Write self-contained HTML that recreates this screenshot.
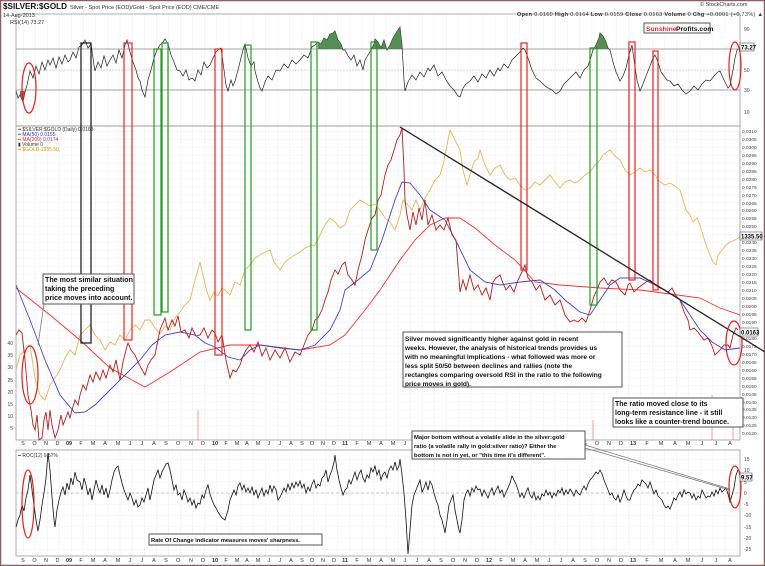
<!DOCTYPE html>
<html><head><meta charset="utf-8"><style>
html,body{margin:0;padding:0;background:#fff}
svg{display:block;font-family:"Liberation Sans",sans-serif}
.t{font-size:5.5px;fill:#333}
.box{fill:#fff;stroke:#555;stroke-width:1}
.bt{font-weight:bold;fill:#111}
</style></head><body>
<svg width="765" height="566" viewBox="0 0 765 566" xmlns="http://www.w3.org/2000/svg">
<defs>
<pattern id="gv" x="23" y="0" width="12.1" height="8" patternUnits="userSpaceOnUse"><line x1="0" y1="0" x2="0" y2="8" stroke="#e0e0e0" stroke-width="0.6"/></pattern>
<pattern id="gh" x="0" y="131" width="20" height="7.95" patternUnits="userSpaceOnUse"><line x1="0" y1="0" x2="20" y2="0" stroke="#e6e6e6" stroke-width="0.5"/></pattern>
<pattern id="gr" x="0" y="459" width="20" height="11.25" patternUnits="userSpaceOnUse"><line x1="0" y1="0" x2="20" y2="0" stroke="#e6e6e6" stroke-width="0.5"/></pattern>
</defs>
<rect x="0.5" y="0.5" width="764" height="565" fill="#fff" stroke="#8a6060" stroke-width="1.5"/>
<rect x="16" y="14" width="724" height="112" fill="url(#gv)"/>
<rect x="16" y="126" width="724" height="314" fill="url(#gv)"/>
<rect x="16" y="126" width="724" height="314" fill="url(#gh)"/>
<rect x="16" y="450" width="724" height="106" fill="url(#gv)"/>
<rect x="16" y="450" width="724" height="106" fill="url(#gr)"/>
<rect x="16" y="14" width="724" height="112" fill="none" stroke="#999" stroke-width="0.8"/>
<rect x="16" y="126" width="724" height="314" fill="none" stroke="#999" stroke-width="0.8"/>
<rect x="16" y="450" width="724" height="106" fill="none" stroke="#999" stroke-width="0.8"/>
<line x1="16" y1="49" x2="740" y2="49" stroke="#888" stroke-width="0.8"/>
<line x1="16" y1="70" x2="740" y2="70" stroke="#aaa" stroke-width="0.6" stroke-dasharray="2,1"/>
<line x1="16" y1="90" x2="740" y2="90" stroke="#888" stroke-width="0.8"/>
<line x1="16" y1="493" x2="740" y2="493" stroke="#999" stroke-width="0.6" stroke-dasharray="3,2"/>

<!-- month labels -->
<g font-size="5.5" fill="#333" text-anchor="middle">
<text x="23 34.5 46 57.5 81 93 105 118 130 142 154 166 178 191 203 226 237 247 258 269 280 291 302 312 323 334 357 369 381 393 405 417 429 441 453 465 477 501 513 525 537 549 561 573 585 597 609 621 647 661 675 688 702 716 730" y="445">SONDFMAMJJASONDFMAMJJASONDFMAMJJASONDFMAMJJASONDFMAMJJA</text>
<text x="23 34.5 46 57.5 81 93 105 118 130 142 154 166 178 191 203 226 237 247 258 269 280 291 302 312 323 334 357 369 381 393 405 417 429 441 453 465 477 501 513 525 537 549 561 573 585 597 609 621 647 661 675 688 702 716 730" y="562">SONDFMAMJJASONDFMAMJJASONDFMAMJJASONDFMAMJJASONDFMAMJJA</text>
<g font-weight="bold"><text x="69" y="445">09</text><text x="215" y="445">10</text><text x="345" y="445">11</text><text x="489" y="445">12</text><text x="633" y="445">13</text>
<text x="69" y="562">09</text><text x="215" y="562">10</text><text x="345" y="562">11</text><text x="489" y="562">12</text><text x="633" y="562">13</text></g>
</g>
<!-- right axis main -->
<text font-size="4.8" fill="#444"><tspan x="742" y="133">0.0310</tspan><tspan x="742" y="141">0.0305</tspan><tspan x="742" y="149">0.0300</tspan><tspan x="742" y="157">0.0295</tspan><tspan x="742" y="165">0.0290</tspan><tspan x="742" y="173">0.0285</tspan><tspan x="742" y="181">0.0280</tspan><tspan x="742" y="189">0.0275</tspan><tspan x="742" y="197">0.0270</tspan><tspan x="742" y="205">0.0265</tspan><tspan x="742" y="212">0.0260</tspan><tspan x="742" y="220">0.0255</tspan><tspan x="742" y="228">0.0250</tspan><tspan x="742" y="236">0.0245</tspan><tspan x="742" y="244">0.0240</tspan><tspan x="742" y="252">0.0235</tspan><tspan x="742" y="260">0.0230</tspan><tspan x="742" y="268">0.0225</tspan><tspan x="742" y="276">0.0220</tspan><tspan x="742" y="284">0.0215</tspan><tspan x="742" y="292">0.0210</tspan><tspan x="742" y="300">0.0205</tspan><tspan x="742" y="308">0.0200</tspan><tspan x="742" y="316">0.0195</tspan><tspan x="742" y="324">0.0190</tspan><tspan x="742" y="332">0.0185</tspan><tspan x="742" y="340">0.0180</tspan><tspan x="742" y="348">0.0175</tspan><tspan x="742" y="356">0.0170</tspan><tspan x="742" y="364">0.0165</tspan><tspan x="742" y="372">0.0160</tspan><tspan x="742" y="380">0.0155</tspan><tspan x="742" y="388">0.0150</tspan><tspan x="742" y="396">0.0145</tspan><tspan x="742" y="404">0.0140</tspan><tspan x="742" y="411">0.0135</tspan><tspan x="742" y="419">0.0130</tspan><tspan x="742" y="427">0.0125</tspan><tspan x="742" y="435">0.0120</tspan></text>
<text font-size="5" fill="#444"><tspan x="744" y="31">90</tspan><tspan x="744" y="51">70</tspan><tspan x="744" y="72">50</tspan><tspan x="744" y="92">30</tspan><tspan x="744" y="114">10</tspan></text>
<text font-size="5" fill="#444"><tspan x="744" y="461">15</tspan><tspan x="744" y="472">10</tspan><tspan x="744" y="484">5</tspan><tspan x="744" y="495">0</tspan><tspan x="744" y="506">-5</tspan><tspan x="744" y="517">-10</tspan><tspan x="744" y="529">-15</tspan><tspan x="744" y="540">-20</tspan><tspan x="744" y="551">-25</tspan></text>
<text font-size="5" fill="#444" text-anchor="end"><tspan x="13" y="345">40</tspan><tspan x="13" y="357">35</tspan><tspan x="13" y="369">30</tspan><tspan x="13" y="382">25</tspan><tspan x="13" y="394">20</tspan><tspan x="13" y="406">15</tspan><tspan x="13" y="418">10</tspan><tspan x="13" y="430">5</tspan></text>

<!-- series -->
<polyline fill="none" stroke="#e3b560" stroke-width="0.9" points="16,370 20,355 25,350 30,345 35,378 40,395 45,400 50,385 55,378 60,370 65,358 70,350 75,355 80,335 85,330 90,325 95,335 100,340 105,350 110,342 115,345 120,335 125,340 130,330 135,325 140,330 145,320 150,320 155,328 160,334 165,326 170,330 175,318 180,312 185,305 190,300 195,280 200,262 204,280 207,292 210,300 214,292 218,296 222,288 225,290 230,295 235,282 240,285 245,270 250,265 255,258 260,255 265,252 270,250 274,262 280,270 285,262 290,258 295,255 300,252 305,248 310,246 315,245 320,235 325,225 330,218 335,222 340,228 345,225 350,210 355,205 360,200 365,203 370,206 375,204 380,210 385,218 390,222 395,230 400,215 403,200 408,205 412,210 416,200 420,210 425,198 430,190 435,180 440,175 443,165 446,150 450,130 455,140 460,150 463,170 467,185 470,175 474,162 478,158 480,150 485,165 490,175 495,168 500,165 505,175 510,180 515,178 520,185 525,190 530,188 535,182 540,185 545,180 550,175 555,182 560,188 565,182 570,180 575,183 580,180 585,175 590,172 595,165 600,160 603,155 607,152 610,150 615,156 620,160 625,170 630,175 635,172 640,168 645,172 650,170 655,175 660,182 665,185 670,183 675,186 680,190 683,200 686,210 690,215 693,222 697,218 700,225 703,235 706,245 710,255 713,262 716,265 718,255 722,250 726,245 730,242 735,240 740,237"/>
<polyline fill="none" stroke="#e33" stroke-width="0.9" points="16,288 50,315 80,340 110,368 145,387 170,372 200,352 230,345 260,345 300,350 330,345 345,335 365,310 380,290 400,260 415,240 430,225 445,218 460,218 475,228 495,245 515,260 535,282 560,285 600,288 640,290 670,294 700,298 720,308 740,315"/>
<polyline fill="none" stroke="#44b" stroke-width="0.9" points="16,285 30,320 45,360 60,395 75,413 85,412 95,405 110,390 125,375 140,360 152,345 165,335 180,332 195,335 205,343 215,347 228,357 240,360 250,350 260,345 280,348 300,350 315,345 330,330 340,310 345,290 358,280 370,270 382,240 395,200 402,182 410,183 420,195 430,210 445,220 458,245 470,270 485,282 500,285 520,282 540,280 555,290 565,300 580,312 590,315 600,300 610,285 620,278 640,278 660,287 680,300 690,315 700,330 712,342 725,350 740,348"/>
<polyline fill="none" stroke="#a22" stroke-width="0.9" points="16,335 19,330 22,333 25,360 28,395 31,410 33,425 35,430 37,415 39,440 42,438 44,420 46,412 48,430 50,410 52,425 55,438 58,430 61,415 63,425 65,420 68,412 70,418 72,410 75,400 78,405 80,395 83,385 86,390 90,375 93,382 96,372 100,380 103,370 106,378 110,365 113,372 116,360 120,380 123,362 126,350 128,343 131,350 135,355 138,362 141,368 145,375 148,365 151,360 155,355 158,340 160,330 162,325 165,318 168,330 172,320 175,326 178,316 181,332 185,330 189,338 192,328 196,336 200,335 204,328 208,338 212,330 215,333 218,342 222,335 226,360 230,378 233,370 236,372 240,365 243,356 246,350 250,345 254,352 258,342 262,356 266,348 270,360 275,350 280,358 285,348 290,362 295,352 300,355 304,345 308,335 312,330 315,320 318,318 322,310 325,300 328,292 331,280 335,270 338,274 342,265 345,262 348,275 352,280 355,285 358,270 362,255 365,240 368,230 372,218 375,215 378,200 381,195 385,175 388,165 391,160 394,150 397,140 400,135 402,128 404,170 405,200 407,215 410,230 413,212 416,225 419,208 422,220 425,200 428,225 432,215 436,230 440,225 444,230 448,218 452,235 456,240 460,292 463,280 466,290 470,275 474,290 478,285 482,295 486,288 490,300 493,282 496,278 500,275 503,283 506,290 510,285 514,292 518,280 522,272 525,265 528,278 532,282 536,290 540,285 545,300 550,295 555,305 560,300 565,315 570,322 574,320 578,322 582,318 586,322 590,310 594,296 597,290 600,282 604,278 608,285 612,280 616,282 620,290 625,295 628,285 630,283 634,292 638,288 642,285 646,282 650,280 655,285 660,288 665,290 668,292 672,288 676,296 680,300 684,312 688,320 690,330 694,328 698,332 700,335 704,340 708,338 712,346 715,355 720,350 724,345 728,345 730,348 733,335 736,328 738,330"/>
<g stroke="#d66" stroke-width="0.6"><line x1="198" y1="440" x2="198" y2="410"/><line x1="593" y1="440" x2="593" y2="420"/><line x1="712" y1="440" x2="712" y2="395"/><line x1="733" y1="440" x2="733" y2="405"/></g>

<!-- RSI -->
<polyline fill="none" stroke="#222" stroke-width="0.7" points="16,91 18,98 20,95 23,102 25,92 27,85 30,71 33,78 36,66 39,74 42,62 45,70 48,60 50,65 53,58 56,68 59,57 62,64 65,55 68,62 70,60 73,52 76,58 79,47 82,45 85,40 88,48 91,44 94,65 95,71 98,62 101,68 104,56 107,66 110,60 113,55 116,63 119,50 122,58 125,45 127,40 130,52 133,62 136,70 138,78 140,81 142,90 145,97 148,80 151,70 154,58 157,50 160,45 163,42 165,39 168,44 171,55 174,62 177,70 180,71 183,76 186,70 189,80 192,78 195,81 198,70 201,75 204,62 207,68 210,65 213,58 216,52 218,50 221,48 224,70 226,85 228,91 231,80 233,86 235,81 238,70 241,58 243,50 245,44 248,58 251,66 254,62 255,71 258,82 260,88 262,91 265,82 268,76 272,80 276,70 280,71 284,64 288,68 292,60 296,64 300,60 304,55 308,58 312,47 315,45 318,42 321,44 324,38 327,40 330,34 333,33 335,31 338,40 341,44 343,50 345,50 348,56 351,60 354,55 357,66 360,60 363,70 365,60 368,55 371,50 374,44 375,39 378,42 381,48 384,40 387,50 390,45 393,38 396,33 398,30 400,27 402,45 404,80 405,91 408,82 412,75 416,80 420,72 424,77 428,68 430,71 434,65 438,76 442,72 446,80 450,86 454,90 458,96 460,97 463,88 466,84 470,81 474,76 478,82 482,74 486,78 490,70 494,76 498,68 500,71 504,64 508,68 512,60 516,56 520,52 523,48 525,50 528,58 532,70 536,78 540,81 544,85 548,88 552,90 556,94 560,91 564,84 568,80 572,76 576,72 580,78 584,70 588,66 590,60 593,50 596,45 599,38 600,33 603,36 606,42 608,48 610,50 613,62 616,72 620,81 623,76 626,68 629,55 632,45 634,60 637,80 640,91 643,84 646,76 650,66 653,58 655,55 658,62 661,72 664,76 667,80 670,81 674,86 678,84 682,90 686,94 690,91 694,86 698,90 702,84 706,80 710,81 714,76 718,72 720,71 723,78 726,84 728,88 730,86 733,70 735,58 737,50 738,49"/>
<g fill="#3a7a3a" opacity="0.85">
<polygon points="318,49 318,42 321,44 324,38 327,40 330,34 333,33 335,31 338,40 341,44 342,49"/>
<polygon points="372,49 374,44 375,39 378,42 381,48 384,40 387,50 390,45 393,38 396,33 398,30 400,27 402,45 402,49"/>
<polygon points="591,49 593,50 596,45 599,38 600,33 603,36 606,42 608,48 609,49"/>
<polygon points="20,91 20,95 23,102 25,92 26,91" fill="#a33"/>
</g>

<!-- ROC -->
<polyline fill="none" stroke="#111" stroke-width="0.8" points="16,527 18,520 20,515 22,505 24,511 26,498 28,490 30,475 32,490 34,505 36,520 38,531 40,520 42,505 44,493 46,478 48,453 50,470 52,497 54,520 55,527 57,510 59,500 61,492 63,487 65,495 67,483 69,490 71,478 73,485 75,472 77,480 80,482 82,490 84,478 86,485 88,495 90,488 92,500 94,490 96,480 98,488 100,493 102,485 104,495 106,488 108,498 110,490 112,480 114,472 116,468 118,466 120,475 122,483 124,490 126,495 128,500 130,493 132,498 134,505 136,500 138,507 140,505 142,498 144,502 146,495 148,488 150,500 152,490 154,480 156,475 158,470 160,478 162,472 164,468 166,464 168,463 170,470 172,480 174,490 176,485 178,495 180,493 182,500 184,490 186,495 188,502 190,498 192,505 194,500 196,508 198,503 200,504 202,495 204,498 206,490 208,485 210,494 212,500 214,505 216,508 218,512 220,515 222,518 225,520 228,510 230,500 232,495 234,490 236,495 238,486 240,483 242,490 244,485 246,492 248,488 250,493 252,487 254,495 256,490 258,498 260,493 262,488 264,496 266,490 268,494 270,485 272,492 274,486 276,490 278,500 280,497 282,493 284,488 286,492 288,484 290,490 292,483 294,488 296,482 298,486 300,481 302,488 304,484 306,493 308,487 310,491 312,484 314,480 316,488 318,484 320,486 322,478 324,476 326,470 328,482 330,475 332,470 334,462 335,455 337,470 339,480 341,488 343,495 345,490 347,488 349,480 351,484 353,478 355,472 357,480 359,474 361,470 363,478 365,482 367,475 369,478 371,468 373,472 375,466 377,475 379,470 381,480 383,474 385,472 387,478 389,470 391,466 393,470 395,462 397,470 399,466 400,459 402,475 404,493 406,520 408,554 410,530 412,505 414,495 416,490 418,485 420,480 422,492 424,488 426,482 428,490 430,481 432,485 434,493 436,500 438,505 440,515 442,520 444,528 445,533 447,520 449,505 451,500 453,495 455,510 457,520 459,530 460,533 462,520 464,500 466,493 468,490 470,496 472,488 474,492 476,486 478,490 480,489 482,496 484,490 486,494 488,498 490,492 492,488 494,495 496,490 498,486 500,493 502,490 504,497 506,492 508,488 510,483 512,476 514,480 516,484 518,490 520,497 522,493 524,498 526,492 528,488 530,495 532,498 534,492 536,500 538,496 540,500 542,494 544,496 546,490 548,495 550,492 552,498 554,493 556,496 558,490 560,493 562,488 564,495 566,490 568,494 570,489 572,492 574,496 576,490 578,493 580,495 582,490 584,486 586,490 588,484 590,480 592,478 594,475 596,472 598,474 600,470 602,474 604,480 606,485 608,490 610,495 612,493 614,498 616,500 618,495 620,502 622,497 624,490 626,496 628,500 630,500 632,494 634,490 636,488 638,484 640,486 642,480 644,482 646,484 648,488 650,482 652,488 654,494 656,490 658,496 660,498 662,500 664,505 666,508 668,506 670,509 672,504 674,498 676,500 678,495 680,492 682,497 684,490 686,494 688,492 690,493 692,498 694,494 696,500 698,496 700,498 702,490 704,494 706,498 708,496 710,497 712,492 714,496 716,490 718,494 720,488 722,492 724,490 726,488 728,494 730,502 732,495 734,488 736,475 738,470"/>

<!-- rectangles -->
<g fill="none" stroke-width="1.2">
<rect x="81" y="43" width="10" height="300" stroke="#111"/>
<rect x="124" y="43" width="8" height="297" stroke="#e22"/>
<rect x="154" y="49" width="7" height="266" stroke="#292"/>
<rect x="162" y="43" width="6" height="269" stroke="#292"/>
<rect x="215" y="49" width="7" height="306" stroke="#e22"/>
<rect x="245" y="45" width="6" height="285" stroke="#292"/>
<rect x="311" y="42" width="6" height="288" stroke="#292"/>
<rect x="371" y="42" width="6" height="208" stroke="#292"/>
<rect x="521" y="43" width="6" height="227" stroke="#e22"/>
<rect x="590" y="48" width="7" height="257" stroke="#292"/>
<rect x="629" y="42" width="6" height="238" stroke="#e22"/>
<rect x="653" y="51" width="5" height="239" stroke="#e22"/>
</g>
<line x1="400" y1="127" x2="765" y2="352" stroke="#222" stroke-width="1.3"/>
<g fill="none" stroke="#d22" stroke-width="1.2">
<ellipse cx="29" cy="88" rx="7" ry="25"/>
<ellipse cx="735" cy="66" rx="6" ry="24"/>
<ellipse cx="30" cy="375" rx="8" ry="29"/>
<ellipse cx="734" cy="343" rx="8" ry="22"/>
<ellipse cx="28" cy="504" rx="6" ry="34"/>
<ellipse cx="735" cy="487" rx="6" ry="21"/>
</g>

<!-- header -->
<text x="3" y="9" font-size="8" font-weight="bold" fill="#111" textLength="64" lengthAdjust="spacingAndGlyphs">$SILVER:$GOLD</text>
<text x="70" y="9" class="t" font-size="5.5">Silver - Spot Price (EOD)/Gold - Spot Price (EOD) CME/CME</text>
<text x="3" y="17" class="t">14-Aug-2013</text>
<text x="10" y="24" class="t">RSI(14) 73.27</text>
<text x="700" y="6" class="t" font-size="5">© StockCharts.com</text>
<text x="517" y="16" class="t" font-size="5.4" textLength="246"><tspan font-weight="bold">Open</tspan> 0.0160 <tspan font-weight="bold">High</tspan> 0.0164 <tspan font-weight="bold">Low</tspan> 0.0159 <tspan font-weight="bold">Close</tspan> 0.0163 <tspan font-weight="bold">Volume</tspan> 0 <tspan font-weight="bold">Chg</tspan> +0.0001 (+0.73%) ▲</text>
<rect x="644" y="23" width="66" height="10" class="box" stroke-width="0.6"/>
<text x="646" y="31" font-size="6.8" font-weight="bold" fill="#e22">Sunshine</text><text x="676" y="31" font-size="6.8" font-weight="bold" fill="#111">Profits.com</text>
<g font-size="5" fill="#333">
<text x="18" y="131">━ $SILVER:$GOLD (Daily) 0.0163</text>
<text x="18" y="136" fill="#33a">━ MA(50) 0.0155</text>
<text x="18" y="141" fill="#c33">━ MA(200) 0.0174</text>
<text x="18" y="146">▮ Volume 0</text>
<text x="18" y="151" fill="#c90">━ $GOLD 1335.50</text>
<text x="18" y="457">━ ROC(12) 9.57%</text>
</g>

<!-- boxes -->
<rect x="43" y="274" width="91" height="30" class="box"/>
<text class="bt" font-size="7.1"><tspan x="45" y="282">The most similar situation</tspan><tspan x="45" y="291">taking the preceding</tspan><tspan x="45" y="300">price moves into account.</tspan></text>
<line x1="44" y1="304" x2="38" y2="345" stroke="#777" stroke-width="0.8"/>
<rect x="403" y="332" width="219" height="55" class="box"/>
<text class="bt" font-size="6.6"><tspan x="405" y="341">Silver moved significantly higher against gold in recent</tspan><tspan x="405" y="350">weeks. However, the analysis of historical trends provides us</tspan><tspan x="405" y="359">with no meaningful implications - what followed was more or</tspan><tspan x="405" y="368">less split 50/50 between declines and rallies (note the</tspan><tspan x="405" y="377">rectangles comparing oversold RSI in the ratio to the following</tspan><tspan x="405" y="386">price moves in gold).</tspan></text>
<rect x="613" y="398" width="130" height="29" class="box"/>
<text class="bt" font-size="7"><tspan x="615" y="406">The ratio moved close to its</tspan><tspan x="615" y="415">long-term resistance line - it still</tspan><tspan x="615" y="424">looks like a counter-trend bounce.</tspan></text>
<line x1="585" y1="445" x2="730" y2="489" stroke="#777" stroke-width="0.7"/>
<line x1="585" y1="448" x2="730" y2="490" stroke="#777" stroke-width="0.7"/>
<rect x="412" y="431" width="173" height="28" class="box"/>
<text class="bt" font-size="5.9"><tspan x="414" y="439">Major bottom without a volatile slide in the silver:gold</tspan><tspan x="414" y="448">ratio (a volatile rally in gold:silver ratio)? Either the</tspan><tspan x="414" y="457">bottom is not in yet, or "this time it's different".</tspan></text>
<rect x="149" y="534" width="173" height="11" class="box"/>
<text x="151" y="542" class="bt" font-size="5.7">Rate Of Change indicator measures moves' sharpness.</text>

<g font-size="6" font-weight="bold">
<rect x="740" y="43" width="14" height="8" fill="#fff" stroke="#333" stroke-width="0.5"/><text x="741" y="49.5">73.27</text>
<rect x="740" y="232" width="22" height="8" fill="#fff" stroke="#333" stroke-width="0.5"/><text x="741" y="238.5">1335.50</text>
<rect x="740" y="328" width="18" height="8" fill="#fff" stroke="#333" stroke-width="0.5"/><text x="741" y="334.5">0.0163</text>
<rect x="740" y="473" width="12" height="8" fill="#fff" stroke="#333" stroke-width="0.5"/><text x="741" y="479.5">9.57</text>
</g>
</svg>
</body></html>
